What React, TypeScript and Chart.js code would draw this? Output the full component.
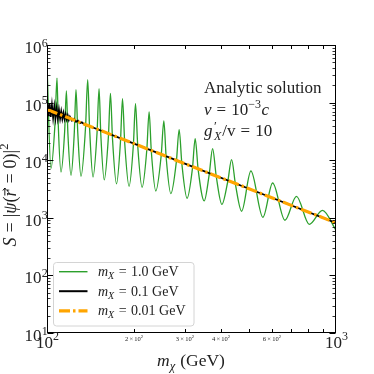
import React, { useEffect, useRef } from 'react';
import { Chart, registerables } from 'chart.js';

Chart.register(...registerables);

// ---------- data ----------
const greenMass = [
  100, 103.2, 106.6, 108.3, 109.4, 111.8, 115.1, 116.7, 118.1, 121.1, 124.3, 126.0, 127.8, 131.1,
  135.9, 138.3, 140.4, 144.3, 149.0, 151.4, 153.5, 157.8, 163.1, 165.8, 168.5, 174.0, 179.6, 182.5,
  185.7, 192.3, 199.0, 202.4, 206.0, 213.3, 221.5, 225.6, 229.6, 238.0, 248.3, 253.7, 258.4, 268.2,
  280.3, 286.6, 292.9, 305.3, 318.6, 325.6, 333.5, 349.9, 364.0, 374.1, 385.2, 402.9, 421.9, 435.2,
  449.4, 471.4, 507.6, 558.5, 603.7, 665.7, 729.9, 808.0, 897.8, 1000,
];
const greenS = [
  4.6e5, 7150, 43700, 2.67e5, 40840, 6240, 31500, 1.59e5, 29420, 5470, 30260, 1.68e5, 29660, 5250,
  36230, 2.51e5, 35800, 5110, 29900, 1.75e5, 28280, 4570, 25690, 1.45e5, 23710, 3890, 21370, 1.17e5,
  20290, 3520, 18360, 9.6e4, 17990, 3390, 15220, 6.87e4, 14160, 2920, 11830, 4.79e4, 11230, 2630,
  9456, 3.4e4, 8590, 2180, 7177, 2.37e4, 6812, 1960, 5579, 1.59e4, 5212, 1710, 4183, 1.02e4,
  3638, 1300, 6490, 1020, 4020, 906, 2360, 771, 1350, 607,
];

const blackMass = [100, 101, 102, 103, 104, 105, 106, 107, 108, 109, 110, 111, 112, 113, 114, 115, 116, 117, 118, 119, 120, 122, 124, 126, 128, 130, 132, 135, 140, 200, 300, 500, 1000];
const blackS = [103000, 58100, 96500, 56600, 90000, 55200, 84600, 54500, 79700, 53800, 74300, 53200, 69900, 52500, 65700, 51900, 62400, 51300, 59300, 50200, 56800, 48800, 52200, 46300, 48600, 43900, 45300, 41300, 39200, 19400, 8700, 3190, 815];

const orangeMass = [100, 200, 300, 500, 1000];
const orangeS = [76000, 19400, 8700, 3190, 815];

const seriesMediatorMass = ['1.0', '0.1', '0.01'];
const seriesColors = ['#2ca02c', '#000000', '#ffa500'];

const yDecades = [10, 100, 1000, 10000, 100000, 1000000];
const yExponents = ['1', '2', '3', '4', '5', '6'];
const xMajor = [100, 1000];
const xMajorExponents = ['2', '3'];
const xMinor = [200, 300, 400, 500, 600, 700, 800, 900];
const xMinorLabeled = [200, 300, 400, 600];
const xMinorMantissa = ['2', '3', '4', '6'];

const annotationTitle = 'Analytic solution';

// ---------- text helpers ----------
type Run = { t: string; size: number; it?: boolean; dy?: number; padL?: number; padR?: number; noAdv?: boolean; vec?: boolean };
const FAM = '"Liberation Serif", "DejaVu Serif", serif';
const font = (size: number, it?: boolean) => `${it ? 'italic ' : ''}${size}px ${FAM}`;

function runsWidth(ctx: CanvasRenderingContext2D, runs: Run[]) {
  let w = 0;
  for (const r of runs) {
    ctx.font = font(r.size, r.it);
    w += (r.padL || 0) + (r.noAdv ? 0 : ctx.measureText(r.t).width) + (r.padR || 0);
  }
  return w;
}

function drawRuns(ctx: CanvasRenderingContext2D, runs: Run[], x: number, y: number, align: 'left' | 'center' | 'right') {
  const w = runsWidth(ctx, runs);
  let cx = align === 'left' ? x : align === 'center' ? x - w / 2 : x - w;
  ctx.textAlign = 'left';
  ctx.textBaseline = 'alphabetic';
  for (const r of runs) {
    ctx.font = font(r.size, r.it);
    cx += r.padL || 0;
    ctx.fillText(r.t, cx, y + (r.dy || 0));
    const tw = ctx.measureText(r.t).width;
    if (r.vec) {
      const ay = y - r.size * 0.62;
      const x0 = cx + 1;
      const x1 = cx + tw + 1.5;
      ctx.save();
      ctx.lineWidth = 0.9;
      ctx.beginPath();
      ctx.moveTo(x0, ay);
      ctx.lineTo(x1, ay);
      ctx.moveTo(x1 - 2.5, ay - 2);
      ctx.lineTo(x1, ay);
      ctx.lineTo(x1 - 2.5, ay + 2);
      ctx.stroke();
      ctx.restore();
    }
    if (!r.noAdv) cx += tw;
    cx += r.padR || 0;
  }
}

const decorPlugin = {
  id: 'decor',
  afterDraw(chart: any) {
    const ctx: CanvasRenderingContext2D = chart.ctx;
    const { left, right, top, bottom } = chart.chartArea;
    const xs = chart.scales.x;
    const ys = chart.scales.y;
    ctx.save();
    ctx.fillStyle = '#000';
    ctx.strokeStyle = '#000';

    // frame
    ctx.lineWidth = 1;
    const L = Math.round(left) + 0.5, R = Math.round(right) - 0.5;
    const T = Math.round(top) + 0.5, B = Math.round(bottom) - 0.5;
    ctx.strokeRect(L, T, R - L, B - T);

    // y ticks (inward, both sides)
    ctx.lineWidth = 1.1;
    for (const v of yDecades) {
      const py = Math.round(ys.getPixelForValue(v)) + 0.5;
      ctx.beginPath();
      ctx.moveTo(L, py); ctx.lineTo(L + 6, py);
      ctx.moveTo(R, py); ctx.lineTo(R - 6, py);
      ctx.stroke();
    }
    ctx.lineWidth = 0.8;
    for (const d of yDecades.slice(0, 5)) {
      for (let k = 2; k <= 9; k++) {
        const py = Math.round(ys.getPixelForValue(k * d)) + 0.5;
        ctx.beginPath();
        ctx.moveTo(L, py); ctx.lineTo(L + 3, py);
        ctx.moveTo(R, py); ctx.lineTo(R - 3, py);
        ctx.stroke();
      }
    }
    // x ticks
    ctx.lineWidth = 1;
    for (const v of xMinor) {
      const px = Math.round(xs.getPixelForValue(v)) + 0.5;
      ctx.beginPath();
      ctx.moveTo(px, B); ctx.lineTo(px, B - 3.5);
      ctx.moveTo(px, T); ctx.lineTo(px, T + 3.5);
      ctx.stroke();
    }

    ctx.fillStyle = '#222';
    // y tick labels
    yDecades.forEach((v, i) => {
      const py = ys.getPixelForValue(v);
      drawRuns(ctx, [{ t: '10', size: 17 }], 41.5, py + 8, 'right');
      drawRuns(ctx, [{ t: yExponents[i], size: 12 }], 41.8, py + 1.5, 'left');
    });
    // x major tick labels
    xMajor.forEach((v, i) => {
      const px = xs.getPixelForValue(v);
      drawRuns(ctx, [{ t: '10', size: 17 }, { t: xMajorExponents[i], size: 12, dy: -8 }], px + 0.5, 348, 'center');
    });
    // x minor tick labels
    xMinorLabeled.forEach((v, i) => {
      const px = xs.getPixelForValue(v);
      drawRuns(ctx, [
        { t: xMinorMantissa[i], size: 6.5 },
        { t: '×', size: 6.5, padL: 1.2, padR: 1.2 },
        { t: '10', size: 6.5 },
        { t: '2', size: 4.6, dy: -2.6 },
      ], px, 340.5, 'center');
    });

    // x axis title
    drawRuns(ctx, [
      { t: 'm', size: 17.5, it: true },
      { t: 'χ', size: 12.5, it: true, dy: 4, padR: 5 },
      { t: '(GeV)', size: 17.5 },
    ], 191, 366, 'center');

    // y axis title (rotated)
    ctx.save();
    ctx.translate(16, 195);
    ctx.rotate(-Math.PI / 2);
    drawRuns(ctx, [
      { t: 'S', size: 18, it: true },
      { t: '=', size: 18, padL: 5, padR: 5 },
      { t: '|', size: 18 },
      { t: 'ψ', size: 18, it: true },
      { t: '(', size: 18 },
      { t: 'r', size: 18, it: true, vec: true, padR: 1 },
      { t: '=', size: 18, padL: 5, padR: 5 },
      { t: '0', size: 18 },
      { t: ')', size: 18 },
      { t: '|', size: 18 },
      { t: '2', size: 12.5, dy: -8 },
    ], 0, 0, 'center');
    ctx.restore();

    // annotation
    drawRuns(ctx, [{ t: annotationTitle, size: 17 }], 204, 92.5, 'left');
    drawRuns(ctx, [
      { t: 'v', size: 17, it: true },
      { t: '=', size: 17, padL: 5, padR: 5 },
      { t: '10', size: 17 },
      { t: '−3', size: 12, dy: -7.5, padR: 0.5 },
      { t: 'c', size: 17, it: true },
    ], 204, 115, 'left');
    drawRuns(ctx, [
      { t: 'g', size: 17, it: true },
      { t: '′', size: 13, dy: -6, noAdv: true, padL: 1.5 },
      { t: 'X', size: 12, it: true, dy: 4 },
      { t: '/v', size: 17, padL: 1 },
      { t: '=', size: 17, padL: 5, padR: 5 },
      { t: '10', size: 17 },
    ], 204, 135.5, 'left');

    // legend
    const bx = 53.5, by = 262.5, bw = 140.5, bh = 63.5, rad = 3;
    ctx.beginPath();
    ctx.moveTo(bx + rad, by);
    ctx.lineTo(bx + bw - rad, by);
    ctx.arcTo(bx + bw, by, bx + bw, by + rad, rad);
    ctx.lineTo(bx + bw, by + bh - rad);
    ctx.arcTo(bx + bw, by + bh, bx + bw - rad, by + bh, rad);
    ctx.lineTo(bx + rad, by + bh);
    ctx.arcTo(bx, by + bh, bx, by + bh - rad, rad);
    ctx.lineTo(bx, by + rad);
    ctx.arcTo(bx, by, bx + rad, by, rad);
    ctx.closePath();
    ctx.fillStyle = 'rgba(255,255,255,0.8)';
    ctx.fill();
    ctx.strokeStyle = '#d4d4d4';
    ctx.lineWidth = 1;
    ctx.stroke();

    const rowsY = [271.7, 291.2, 310.8];
    const widths = [1.4, 2, 3.2];
    seriesMediatorMass.forEach((mm, i) => {
      const ry = rowsY[i];
      ctx.save();
      ctx.strokeStyle = seriesColors[i];
      ctx.lineWidth = widths[i];
      ctx.lineCap = 'butt';
      if (i === 2) ctx.setLineDash([11, 3, 2.5, 3]);
      ctx.beginPath();
      ctx.moveTo(59, ry);
      ctx.lineTo(87.5, ry);
      ctx.stroke();
      ctx.restore();
      ctx.fillStyle = '#222';
      drawRuns(ctx, [
        { t: 'm', size: 14, it: true },
        { t: 'X', size: 10, it: true, dy: 3 },
        { t: '=', size: 14, padL: 4.5, padR: 4.5 },
        { t: mm + ' GeV', size: 14 },
      ], 98, ry + 4.5, 'left');
    });

    ctx.restore();
  },
};

export default function App() {
  const canvasRef = useRef<HTMLCanvasElement | null>(null);

  useEffect(() => {
    const canvas = canvasRef.current;
    if (!canvas) return;
    const toPts = (xs: number[], ys: number[]) => xs.map((x, i) => ({ x, y: ys[i] }));
    const chart = new Chart(canvas, {
      type: 'line',
      data: {
        datasets: [
          {
            label: 'mX = 1.0 GeV',
            data: toPts(greenMass, greenS),
            borderColor: seriesColors[0],
            borderWidth: 1.3,
            pointRadius: 0,
            cubicInterpolationMode: 'monotone',
            order: 3,
            clip: 0,
          },
          {
            label: 'mX = 0.1 GeV',
            data: toPts(blackMass, blackS),
            borderColor: seriesColors[1],
            borderWidth: 1.8,
            pointRadius: 0,
            tension: 0,
            order: 2,
            clip: 0,
          },
          {
            label: 'mX = 0.01 GeV',
            data: toPts(orangeMass, orangeS),
            borderColor: seriesColors[2],
            borderWidth: 3.2,
            borderDash: [11, 3, 2.5, 3],
            borderCapStyle: 'butt',
            pointRadius: 0,
            tension: 0,
            order: 1,
            clip: 0,
          },
        ] as any,
      },
      options: {
        responsive: false,
        devicePixelRatio: 1,
        animation: false,
        events: [],
        layout: { padding: { left: 47, right: 38, top: 45, bottom: 41 } },
        plugins: { legend: { display: false }, tooltip: { enabled: false } },
        scales: {
          x: { type: 'logarithmic', min: 100, max: 1000, display: false },
          y: { type: 'logarithmic', min: 10, max: 1000000, display: false },
        },
      } as any,
      plugins: [decorPlugin],
    });
    return () => chart.destroy();
  }, []);

  return (
    <div style={{ position: 'absolute', left: 0, top: 0, width: 374, height: 374, background: '#fff' }}>
      <canvas ref={canvasRef} width={374} height={374} style={{ display: 'block' }} />
    </div>
  );
}
